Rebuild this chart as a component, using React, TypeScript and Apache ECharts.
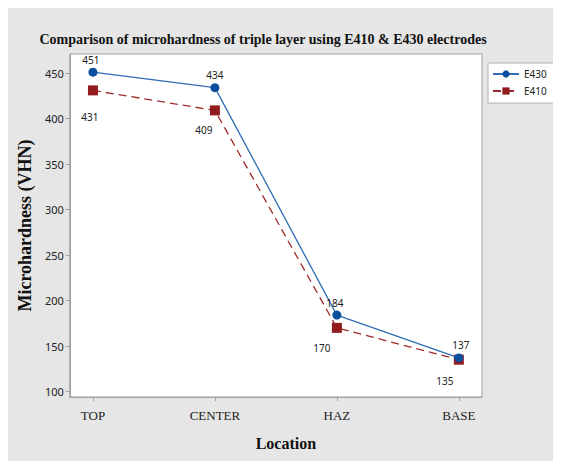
import React, { useEffect, useRef } from "react";
import * as echarts from "echarts";

const categories = ["TOP", "CENTER", "HAZ", "BASE"];
const e430Values = [451, 434, 184, 137];
const e410Values = [431, 409, 170, 135];
const yTicks = [100, 150, 200, 250, 300, 350, 400, 450];

// label placement tweaks (style only)
const e430LabelOffsets = [[-2, 0], [0, 0], [-2, 0], [2, 0]];
const e410LabelOffsets = [[-3, 7], [-11, 0], [-15, 0], [-14, 1]];

export default function App() {
  const ref = useRef<HTMLDivElement>(null);
  useEffect(() => {
    if (!ref.current) return;
    const chart = echarts.init(ref.current, null, { renderer: "svg" });
    const xIdx = categories.map((_, i) => i);
    chart.setOption({
      animation: false,
      backgroundColor: "#e6e6e6",
      title: {
        text: "Comparison of microhardness of triple layer using E410 & E430 electrodes",
        left: 250,
        top: 19,
        textAlign: "center",
        textStyle: {
          fontFamily: "Liberation Serif",
          fontWeight: "bold",
          fontSize: 14,
          color: "#111",
        },
      },
      legend: {
        left: 480,
        top: 55,
        orient: "vertical",
        backgroundColor: "#ffffff",
        borderColor: "#b0b0b0",
        borderWidth: 1,
        borderRadius: 0,
        padding: [6, 8, 7, 4],
        itemGap: 7,
        itemWidth: 26,
        itemHeight: 9,
        textStyle: { fontFamily: "Noto Sans", fontSize: 10, color: "#222" },
        data: ["E430", "E410"],
      },
      grid: {
        left: 60,
        right: 79,
        top: 46,
        bottom: 64,
        show: true,
        backgroundColor: "#ffffff",
        borderColor: "#a0a0a0",
        borderWidth: 1,
      },
      xAxis: {
        type: "value",
        min: -0.19,
        max: 3.19,
        name: "Location",
        nameLocation: "middle",
        nameGap: 38,
        nameTextStyle: {
          fontFamily: "Liberation Serif",
          fontWeight: "bold",
          fontSize: 16,
          color: "#111",
          padding: [0, 0, 0, 20],
        },
        splitLine: { show: false },
        axisLine: { show: true, onZero: false, lineStyle: { color: "#a0a0a0" } },
        axisTick: {
          show: true,
          length: 4,
          customValues: xIdx,
          lineStyle: { color: "#a0a0a0" },
        },
        axisLabel: {
          customValues: xIdx,
          margin: 12,
          fontFamily: "Liberation Serif",
          fontSize: 13,
          color: "#222",
          formatter: (v: number) => categories[Math.round(v)] ?? "",
        },
      },
      yAxis: {
        type: "value",
        min: 94,
        max: 471,
        name: "Microhardness (VHN)",
        nameLocation: "middle",
        nameGap: 23,
        nameTextStyle: {
          fontFamily: "Liberation Serif",
          fontWeight: "bold",
          fontSize: 18,
          color: "#111",
        },
        splitLine: { show: false },
        axisLine: { show: true, onZero: false, lineStyle: { color: "#a0a0a0" } },
        axisTick: {
          show: true,
          length: 4,
          customValues: yTicks,
          lineStyle: { color: "#a0a0a0" },
        },
        axisLabel: {
          customValues: yTicks,
          margin: 6,
          fontFamily: "Noto Sans",
          fontSize: 11,
          color: "#222",
        },
      },
      series: [
        {
          name: "E430",
          type: "line",
          data: e430Values.map((v, i) => ({
            value: [i, v],
            label: { offset: e430LabelOffsets[i] },
          })),
          symbol: "circle",
          symbolSize: 9,
          itemStyle: { color: "#0a4f9e" },
          lineStyle: { color: "#2f6db5", width: 1.3, type: "solid" },
          label: {
            show: true,
            position: "top",
            distance: 3,
            fontFamily: "Noto Sans",
            fontSize: 10,
            color: "#222",
          },
          z: 3,
        },
        {
          name: "E410",
          type: "line",
          data: e410Values.map((v, i) => ({
            value: [i, v],
            label: { offset: e410LabelOffsets[i] },
          })),
          symbol: "rect",
          symbolSize: 10,
          itemStyle: { color: "#921b1e" },
          lineStyle: { color: "#9e2b2b", width: 1.3, type: [8, 5] },
          label: {
            show: true,
            position: "bottom",
            distance: 10,
            fontFamily: "Noto Sans",
            fontSize: 10,
            color: "#222",
          },
          z: 2,
        },
      ],
    });
    return () => chart.dispose();
  }, []);
  return <div ref={ref} style={{ width: 553, height: 453 }} />;
}
